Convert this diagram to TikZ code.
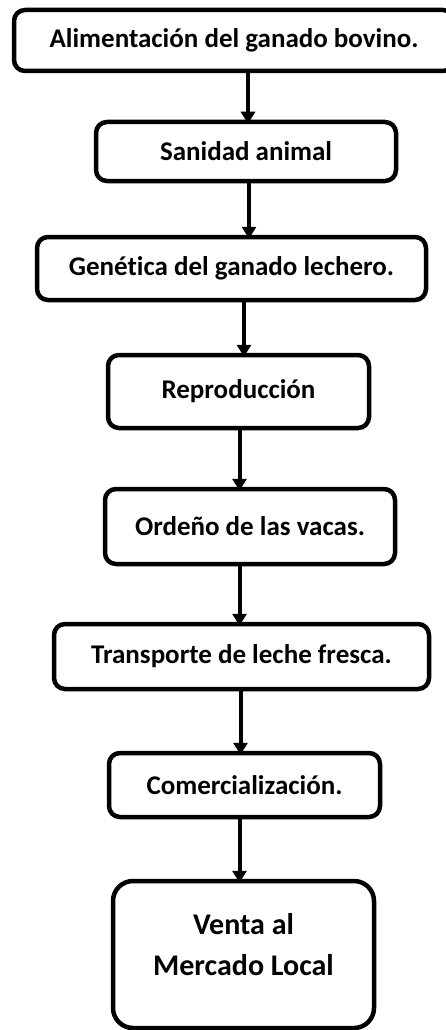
\documentclass[tikz,border=0pt]{standalone}
\usepackage{fontspec}
\setmainfont{Carlito}[Ligatures=NoCommon]
\usetikzlibrary{arrows.meta,positioning}
\pgfdeclarelayer{bg}
\pgfsetlayers{bg,main}
\tikzset{
    every node/.style={inner sep=0mm, align=center, font=\bfseries\fontsize{27}{40}\selectfont}
}
\tikzset{
    stepbox/.style={draw, line width=4.5pt, rounded corners=11pt},
    flow/.style={line width=4pt, -{Triangle[width=14pt,length=12pt]}, shorten >=-4pt}
}

\begin{document}
\begin{tikzpicture}
    \useasboundingbox (0pt, 0pt) rectangle (446pt, -1030pt);

    \node (s1) [stepbox, minimum width=440pt, minimum height=61pt] at (234pt, -40.5pt) {Alimentación del ganado bovino.};
    \node (s2) [stepbox, minimum width=300pt, minimum height=59pt] at (246pt, -151.5pt) {Sanidad animal};
    \node (s3) [stepbox, minimum width=389pt, minimum height=63pt] at (231.5pt, -268.5pt) {Genética del ganado lechero.};
    \node (s4) [stepbox, minimum width=261pt, minimum height=73pt] at (238.5pt, -391.5pt) {Reproducción};
    \node (s5) [stepbox, minimum width=290pt, minimum height=75pt] at (250pt, -526.5pt) {Ordeño de las vacas.};
    \node (s6) [stepbox, minimum width=375pt, minimum height=65pt] at (241.5pt, -656.5pt) {Transporte de leche fresca.};
    \node (s7) [stepbox, minimum width=271pt, minimum height=64pt] at (244.5pt, -785pt) {Comercialización.};
    \node (s8) [stepbox, rounded corners=20pt, minimum width=261pt, minimum height=147pt] at (243.5pt, -954.5pt) {};
    \node (t8) [below=34pt of s8.north, font=\bfseries\fontsize{30}{41}\selectfont] {Venta al\\Mercado Local};

    \coordinate (c1) at (248pt, 0pt);
    \coordinate (c2) at (249pt, 0pt);
    \coordinate (c3) at (244pt, 0pt);
    \coordinate (c4) at (239.5pt, 0pt);
    \coordinate (c5) at (239.5pt, 0pt);
    \coordinate (c6) at (240.5pt, 0pt);
    \coordinate (c7) at (239.5pt, 0pt);

    \draw[flow] (s1.south -| c1) -- (s2.north -| c1);
    \draw[flow] (s2.south -| c2) -- (s3.north -| c2);
    \draw[flow] (s3.south -| c3) -- (s4.north -| c3);
    \draw[flow] (s4.south -| c4) -- (s5.north -| c4);
    \draw[flow] (s5.south -| c5) -- (s6.north -| c5);
    \draw[flow] (s6.south -| c6) -- (s7.north -| c6);
    \draw[flow] (s7.south -| c7) -- (s8.north -| c7);

    \begin{pgfonlayer}{bg}
        \fill[white] (0pt, 0pt) rectangle (446pt, -1030pt);
    \end{pgfonlayer}
\end{tikzpicture}
\end{document}
